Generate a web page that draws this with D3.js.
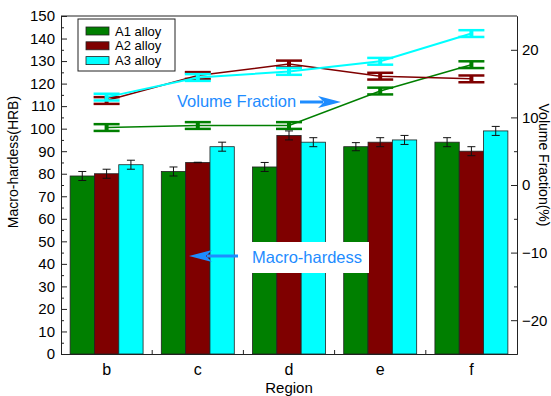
<!DOCTYPE html>
<meta charset="utf-8">
<script src="https://cdn.jsdelivr.net/npm/d3@7"></script>
<style>
body { margin: 0; background: #fff; }
svg { display: block; }
text { font-family: "Liberation Sans", Arial, sans-serif; fill: #000; }
.axis path, .axis line { stroke: #222; stroke-width: 1px; }
.axis text { font-size: 15px; }
.bar { stroke: #222; stroke-width: 0.8px; }
.err { stroke: #111; stroke-width: 1px; }
</style>
<body>
<script>
// data
var regions = ["b", "c", "d", "e", "f"];
var alloys = ["A1 alloy", "A2 alloy", "A3 alloy"];
var colors = ["#007f00", "#7f0000", "#00ffff"];

// macro-hardness (HRB), bars
var hardA1 = [79, 81, 83, 92, 94];
var hardA2 = [80, 85, 97, 94, 90];
var hardA3 = [84, 92, 94, 95, 99];
var hardErrA1 = [2, 2, 2, 1.8, 2];
var hardErrA2 = [2, 0.1, 2, 2, 2];
var hardErrA3 = [2, 2, 2, 2, 2];

// volume fraction (%), lines on right axis
var volA1 = [8.5, 8.8, 8.8, 13.9, 17.8];
var volA2 = [12.5, 16.2, 17.9, 16.1, 15.7];
var volA3 = [13.0, 15.9, 16.8, 18.3, 22.4];
var volErr = [0.5, 0.5, 0.5, 0.5, 0.5];

var leftTicks = d3.range(0, 151, 10);
var rightTicks = [-20, -10, 0, 10, 20];

var width = 551, height = 396;
var margin = {top: 16, right: 34, bottom: 42, left: 61};

var svg = d3.select("body").append("svg")
    .attr("width", width)
    .attr("height", height);

var x = d3.scaleBand().domain(regions).range([margin.left, width - margin.right]).padding(0);
var yL = d3.scaleLinear().domain([0, 150]).range([height - margin.bottom, margin.top]);
var yR = d3.scaleLinear().domain([-25, 25]).range([height - margin.bottom, margin.top]);

var inner = d3.scaleBand().domain(alloys)
    .range([x.bandwidth() * 0.1, x.bandwidth() * 0.9]);

var hard = [hardA1, hardA2, hardA3];
var hardErr = [hardErrA1, hardErrA2, hardErrA3];
var vol = [volA1, volA2, volA3];

// bars
alloys.forEach(function(a, i) {
  var g = svg.append("g");
  g.selectAll("rect")
    .data(regions)
    .enter().append("rect")
      .attr("class", "bar")
      .attr("x", function(r) { return x(r) + inner(a); })
      .attr("width", inner.bandwidth())
      .attr("y", function(r, j) { return yL(hard[i][j]); })
      .attr("height", function(r, j) { return yL(0) - yL(hard[i][j]); })
      .style("fill", colors[i]);
});

// bar error bars
alloys.forEach(function(a, i) {
  var g = svg.append("g").attr("class", "err");
  regions.forEach(function(r, j) {
    var cx = x(r) + inner(a) + inner.bandwidth() / 2;
    var top = yL(hard[i][j] + hardErr[i][j]), bot = yL(hard[i][j] - hardErr[i][j]);
    g.append("line").attr("x1", cx).attr("x2", cx).attr("y1", top).attr("y2", bot);
    g.append("line").attr("x1", cx - 4).attr("x2", cx + 4).attr("y1", top).attr("y2", top);
    g.append("line").attr("x1", cx - 4).attr("x2", cx + 4).attr("y1", bot).attr("y2", bot);
  });
});

// volume fraction lines
var line = d3.line()
    .x(function(d, j) { return x(regions[j]) + x.bandwidth() / 2; })
    .y(function(d) { return yR(d); });

vol.forEach(function(v, i) {
  svg.append("path")
    .datum(v)
    .attr("d", line)
    .style("fill", "none")
    .style("stroke", colors[i])
    .style("stroke-width", i == 2 ? 2 : 1.5);

  var g = svg.append("g")
    .style("stroke", colors[i])
    .style("stroke-width", 2.5);
  v.forEach(function(d, j) {
    var cx = x(regions[j]) + x.bandwidth() / 2;
    var top = yR(d + volErr[j]), bot = yR(d - volErr[j]);
    g.append("line").attr("x1", cx).attr("x2", cx).attr("y1", top).attr("y2", bot).style("stroke-width", 4);
    g.append("line").attr("x1", cx - 13).attr("x2", cx + 13).attr("y1", top).attr("y2", top);
    g.append("line").attr("x1", cx - 13).attr("x2", cx + 13).attr("y1", bot).attr("y2", bot);
  });
});

// axes
var minorL = d3.range(5, 150, 10);
var minorR = [-15, -5, 5, 15];

svg.append("g")
    .attr("class", "axis")
    .attr("transform", "translate(" + margin.left + ",0)")
    .call(d3.axisLeft(yL).tickValues(leftTicks).tickSizeInner(-6).tickSizeOuter(0).tickPadding(6));
svg.append("g")
    .attr("class", "axis")
    .attr("transform", "translate(" + margin.left + ",0)")
    .call(d3.axisLeft(yL).tickValues(minorL).tickSizeInner(-3).tickSizeOuter(0).tickFormat(""));

svg.append("g")
    .attr("class", "axis")
    .attr("transform", "translate(" + (width - margin.right) + ",0)")
    .call(d3.axisRight(yR).tickValues(rightTicks).tickSizeInner(-6).tickSizeOuter(0).tickPadding(5));
svg.append("g")
    .attr("class", "axis")
    .attr("transform", "translate(" + (width - margin.right) + ",0)")
    .call(d3.axisRight(yR).tickValues(minorR).tickSizeInner(-3).tickSizeOuter(0).tickFormat(""));

var xAxis = svg.append("g")
    .attr("class", "axis")
    .attr("transform", "translate(0," + (height - margin.bottom) + ")")
    .call(d3.axisBottom(x).tickSize(0).tickSizeOuter(0).tickPadding(10));
xAxis.selectAll("text").style("font-size", "16px");

// small ticks between groups
svg.append("g")
    .attr("class", "axis")
    .selectAll("line")
    .data(regions.slice(1))
    .enter().append("line")
      .attr("x1", function(r) { return x(r); })
      .attr("x2", function(r) { return x(r); })
      .attr("y1", height - margin.bottom)
      .attr("y2", height - margin.bottom - 4);

// top frame
svg.append("line")
    .attr("x1", margin.left).attr("x2", width - margin.right)
    .attr("y1", margin.top).attr("y2", margin.top)
    .style("stroke", "#222");

// axis titles
svg.append("text")
    .attr("transform", "translate(18," + 162 + ") rotate(-90)")
    .attr("text-anchor", "middle")
    .style("font-size", "14px")
    .text("Macro-hardess(HRB)");

svg.append("text")
    .attr("transform", "translate(539," + 165 + ") rotate(90)")
    .attr("text-anchor", "middle")
    .style("font-size", "14px")
    .text("Volume Fraction(%)");

svg.append("text")
    .attr("x", (margin.left + width - margin.right) / 2)
    .attr("y", 393)
    .attr("text-anchor", "middle")
    .style("font-size", "15px")
    .text("Region");

// annotations
function arrow(x1, x2, y) {
  var dir = x2 > x1 ? 1 : -1;
  var hx = x2 - dir * 23;
  svg.append("line")
      .attr("x1", x1).attr("x2", hx + dir * 5)
      .attr("y1", y).attr("y2", y)
      .style("stroke", "#1e8cff").style("stroke-width", 3);
  svg.append("path")
      .attr("d", "M" + x2 + "," + y + "L" + hx + "," + (y - 6) +
                 "L" + (hx + dir * 6) + "," + y + "L" + hx + "," + (y + 6) + "Z")
      .style("fill", "#1e8cff");
}

svg.append("text")
    .attr("x", 177).attr("y", 107)
    .style("font-size", "16.5px")
    .style("fill", "#1e8cff")
    .text("Volume Fraction");
arrow(300, 341, 102);

svg.append("rect")
    .attr("x", 238).attr("y", 242)
    .attr("width", 131).attr("height", 31)
    .style("fill", "#fff");
svg.append("text")
    .attr("x", 252).attr("y", 263)
    .style("font-size", "16.5px")
    .style("fill", "#1e8cff")
    .text("Macro-hardess");
arrow(238, 189, 256);

// legend
var legend = svg.append("g");
legend.append("rect")
    .attr("x", 78).attr("y", 19)
    .attr("width", 97).attr("height", 52)
    .style("fill", "#fff").style("stroke", "#222");
alloys.forEach(function(a, i) {
  var cy = 31 + i * 14.8;
  legend.append("rect")
    .attr("x", 86).attr("y", cy - 4)
    .attr("width", 23).attr("height", 8)
    .style("fill", colors[i]).style("stroke", "#222").style("stroke-width", 0.8);
  legend.append("text")
    .attr("x", 115).attr("y", cy + 4.5)
    .style("font-size", "13px")
    .text(a);
});
</script>
</body>
</html>
